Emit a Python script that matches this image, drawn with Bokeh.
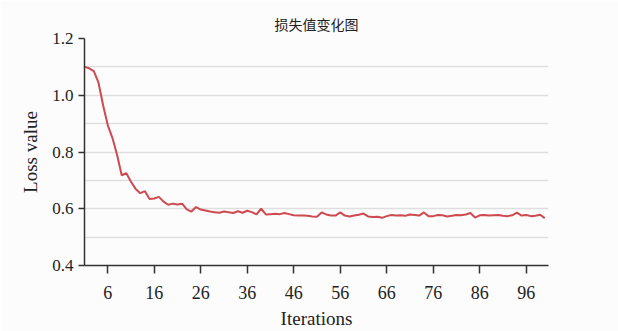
from bokeh.plotting import figure
from bokeh.models import Range1d, FixedTicker, CustomJSTickFormatter
from bokeh.embed import file_html
from bokeh.resources import INLINE

iterations = list(range(1, 101))
loss = [
    1.100, 1.095, 1.085, 1.045, 0.965, 0.895, 0.850, 0.790, 0.718, 0.725,
    0.695, 0.670, 0.655, 0.662, 0.634, 0.636, 0.642, 0.625, 0.614, 0.618,
    0.615, 0.618, 0.598, 0.590, 0.606, 0.597, 0.594, 0.590, 0.588, 0.586,
    0.590, 0.588, 0.585, 0.591, 0.586, 0.593, 0.588, 0.580, 0.600, 0.580,
    0.581, 0.582, 0.581, 0.585, 0.581, 0.577, 0.576, 0.576, 0.575, 0.573,
    0.572, 0.587, 0.580, 0.576, 0.576, 0.587, 0.576, 0.573, 0.576, 0.579,
    0.583, 0.573, 0.571, 0.572, 0.568, 0.574, 0.578, 0.576, 0.577, 0.575,
    0.580, 0.578, 0.576, 0.587, 0.574, 0.574, 0.578, 0.577, 0.573, 0.575,
    0.578, 0.577, 0.580, 0.585, 0.569, 0.577, 0.578, 0.576, 0.577, 0.578,
    0.575, 0.574, 0.577, 0.586, 0.576, 0.578, 0.574, 0.575, 0.579, 0.567,
]
x_ticks = [6, 16, 26, 36, 46, 56, 66, 76, 86, 96]
y_ticks = [0.4, 0.6, 0.8, 1.0, 1.2]
y_grid = [0.5, 0.6, 0.7, 0.8, 0.9, 1.0, 1.1]

title_text = "损失值变化图"
x_label = "Iterations"
y_label = "Loss value"

SERIF = "Liberation Serif"

p = figure(width=618, height=331, output_backend="svg", toolbar_location=None,
           x_range=Range1d(1, 100.8), y_range=Range1d(0.4, 1.2),
           title=title_text,
           min_border_left=84, min_border_right=70, min_border_top=38, min_border_bottom=65)

p.background_fill_color = "#fcfcfc"
p.border_fill_color = "#fcfcfc"
p.outline_line_color = None

p.title.align = "center"
p.title.text_font = "Noto Sans CJK SC"
p.title.text_font_size = "14px"
p.title.text_font_style = "normal"
p.title.text_color = "#222222"

p.line(iterations, loss, line_color="#cc4a50", line_width=2)

for ax in (p.xaxis[0], p.yaxis[0]):
    ax.axis_line_color = "#333333"
    ax.axis_line_width = 1.5
    ax.major_tick_line_color = "#333333"
    ax.major_tick_line_width = 1.5
    ax.major_tick_in = 0
    ax.minor_tick_line_color = None
    ax.major_label_text_font = SERIF
    ax.major_label_text_color = "#222222"
    ax.axis_label_text_font = SERIF
    ax.axis_label_text_font_size = "19px"
    ax.axis_label_text_font_style = "normal"
    ax.axis_label_text_color = "#222222"

p.xaxis.ticker = FixedTicker(ticks=x_ticks)
p.xaxis.major_tick_out = 8
p.xaxis.major_label_standoff = 12
p.xaxis.major_label_text_font_size = "18px"
p.xaxis.axis_label = x_label
p.xaxis.axis_label_standoff = 6

p.yaxis.ticker = FixedTicker(ticks=y_ticks)
p.yaxis.major_tick_out = 6
p.yaxis.major_label_standoff = 5
p.yaxis.major_label_text_font_size = "17px"
p.yaxis.axis_label = y_label
p.yaxis.axis_label_standoff = 8
p.yaxis.formatter = CustomJSTickFormatter(code="return tick.toFixed(1);")

p.xgrid.grid_line_color = None
p.ygrid.ticker = FixedTicker(ticks=y_grid)
p.ygrid.grid_line_color = "#dedede"
p.ygrid.grid_line_width = 1.5

open("out.html", "w").write(file_html(p, INLINE))
